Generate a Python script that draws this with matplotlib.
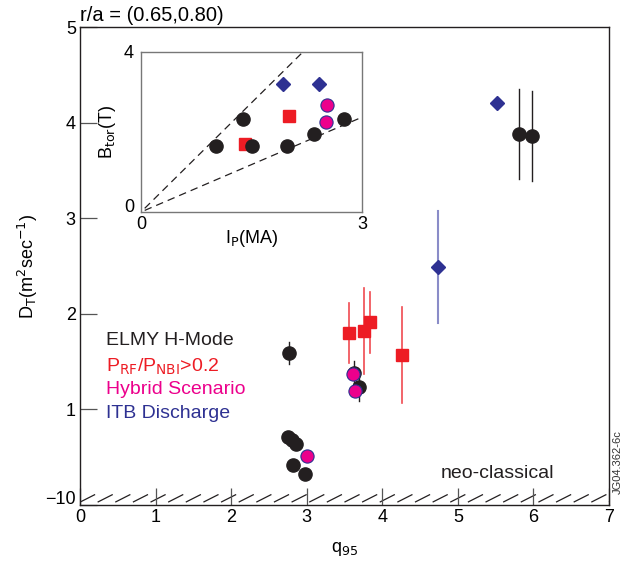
import matplotlib
matplotlib.use("Agg")
import matplotlib.pyplot as plt
import matplotlib.transforms as mtrans
import numpy as np

plt.rcParams['font.family'] = ['Liberation Sans', 'DejaVu Sans']

BLACK = '#231f20'
RED = '#ed1c24'
MAGENTA = '#ec008c'
BLUE = '#2e3192'

# ---- main panel data: D_T vs q95 ----
elmy_q = [2.77, 2.75, 2.80, 2.86, 2.82, 2.98, 3.69, 3.62, 5.81, 5.98]
elmy_d = [1.59, 0.71, 0.68, 0.64, 0.42, 0.32, 1.23, 1.38, 3.88, 3.86]
elmy_err = [0.115, 0, 0, 0, 0, 0, 0.14, 0.13, 0.47, 0.47]

rf_q = [3.56, 3.76, 3.84, 4.26]
rf_d = [1.80, 1.82, 1.91, 1.57]
rf_err = [0.31, 0.45, 0.32, 0.50]

hyb_q = [3.61, 3.64, 3.00]
hyb_d = [1.37, 1.19, 0.51]

itb_q = [5.52, 4.74]
itb_d = [4.20, 2.49]
itb_err = [0.0, 0.59]

# ---- inset data: B_tor vs Ip ----
in_elmy_ip = [1.02, 1.38, 1.51, 1.98, 2.35, 2.75]
in_elmy_b = [1.65, 2.33, 1.65, 1.65, 1.95, 2.33]
in_rf_ip = [1.41, 2.01]
in_rf_b = [1.70, 2.40]
in_hyb_ip = [2.52, 2.51]
in_hyb_b = [2.68, 2.25]
in_itb_ip = [1.93, 2.42]
in_itb_b = [3.20, 3.20]
in_slopes = [1.82, 0.79]

fig = plt.figure(figsize=(6.23, 5.63), dpi=100)
ax = fig.add_axes([80/623, 58/563, 529/623, 478/563])

fs = 13
fs_txt = 14
ms = 9.5

# error bars
for q, d, e in zip(elmy_q, elmy_d, elmy_err):
    if e > 0:
        ax.plot([q, q], [d - e, d + e], color=BLACK, lw=1.0, zorder=2)
for q, d, e in zip(rf_q, rf_d, rf_err):
    ax.plot([q, q], [d - e, d + e], color='#f04a50', lw=1.2, zorder=2)
for q, d, e in zip(itb_q, itb_d, itb_err):
    if e > 0:
        ax.plot([q, q], [d - e, d + e], color='#8a8cc8', lw=1.5, zorder=2)

ax.plot(elmy_q, elmy_d, 'o', color=BLACK, ms=ms, mec=BLACK, zorder=3, ls='none')
ax.plot(rf_q, rf_d, 's', color=RED, ms=ms - 1, mec=RED, zorder=3, ls='none')
ax.plot(hyb_q, hyb_d, 'o', color=MAGENTA, ms=ms, mec=BLUE, mew=0.8, zorder=4, ls='none')
ax.plot(itb_q, itb_d, 'D', color=BLUE, ms=7.5, mec=BLUE, zorder=3, ls='none')

# hatch for neo-classical floor
for x0 in np.arange(0.0, 7.0, 0.2333):
    ax.plot([x0, x0 + 0.2], [0.03, 0.11], color=BLACK, lw=0.9, zorder=1,
            solid_capstyle='butt')

ax.text(5.52, 0.33, 'neo-classical', fontsize=fs_txt, ha='center', va='center', color=BLACK)

ax.set_xlim(0, 7)
ax.set_ylim(0, 5)
ax.set_xticks(range(0, 8))
ax.set_yticks(range(0, 6))
ax.set_yticklabels(['\u221210', '1', '2', '3', '4', '5'])
ax.tick_params(direction='in', length=12, width=0.9, labelsize=fs, color='#555555',
               top=False, right=False, pad=3)
for s in ax.spines.values():
    s.set_linewidth(1.0)
    s.set_color(BLACK)
# shift the bottom y label slightly upward as in the reference
lab0 = ax.get_yticklabels()[0]
lab0.set_transform(lab0.get_transform() + mtrans.ScaledTranslation(0, 8/100, fig.dpi_scale_trans))

ax.set_xlabel(r'q$_{95}$', fontsize=fs, labelpad=10)
ax.set_ylabel(r'D$_{\rm T}$(m$^{2}$sec$^{-1}$)', fontsize=fs, labelpad=4)
ax.set_title('r/a = (0.65,0.80)', fontsize=14.5, loc='left', pad=4, x=0.0)

# legend text
lx = 0.34
ax.text(lx, 1.72, 'ELMY H-Mode', fontsize=fs_txt, color=BLACK, va='center')
ax.text(lx, 1.44, r'P$_{\rm RF}$/P$_{\rm NBI}$>0.2', fontsize=fs_txt, color=RED, va='center')
ax.text(lx, 1.21, 'Hybrid Scenario', fontsize=fs_txt, color=MAGENTA, va='center')
ax.text(lx, 0.96, 'ITB Discharge', fontsize=fs_txt, color=BLUE, va='center')

fig.text(618/623, 1 - 462/563, 'JG04.362-6c', rotation=90, fontsize=8,
         ha='center', va='center', color='#333333')

# ---- inset ----
ins = fig.add_axes([141/623, 1 - 212/563, 221/623, 160/563])
xs = np.array([0.05, 3.0])
for sl in in_slopes:
    ins.plot(xs, sl * xs, ls=(0, (6, 4)), color=BLACK, lw=0.9, zorder=1)
ins.plot(in_elmy_ip, in_elmy_b, 'o', color=BLACK, ms=ms, mec=BLACK, zorder=3, ls='none')
ins.plot(in_rf_ip, in_rf_b, 's', color=RED, ms=ms - 1, mec=RED, zorder=2, ls='none')
ins.plot(in_hyb_ip, in_hyb_b, 'o', color=MAGENTA, ms=ms, mec=BLUE, mew=0.8, zorder=3, ls='none')
ins.plot(in_itb_ip, in_itb_b, 'D', color=BLUE, ms=7.5, mec=BLUE, zorder=3, ls='none')
ins.set_xlim(0, 3)
ins.set_ylim(0, 4)
ins.set_xticks([0, 3])
ins.set_yticks([0, 4])
ins.tick_params(axis='x', length=0, labelsize=fs, pad=3)
ins.tick_params(axis='y', length=0, labelsize=fs, pad=5)
for s in ins.spines.values():
    s.set_linewidth(1.0)
    s.set_color('#777777')
# lift the inset's y "0" label a little
ylab0 = ins.get_yticklabels()[0]
ylab0.set_transform(ylab0.get_transform() + mtrans.ScaledTranslation(0, 6/100, fig.dpi_scale_trans))
ins.set_xlabel(r'I$_{\rm P}$(MA)', fontsize=fs, labelpad=-4)
ins.set_ylabel(r'B$_{\rm tor}$(T)', fontsize=fs, labelpad=4)

fig.savefig('out.png', dpi=100)
